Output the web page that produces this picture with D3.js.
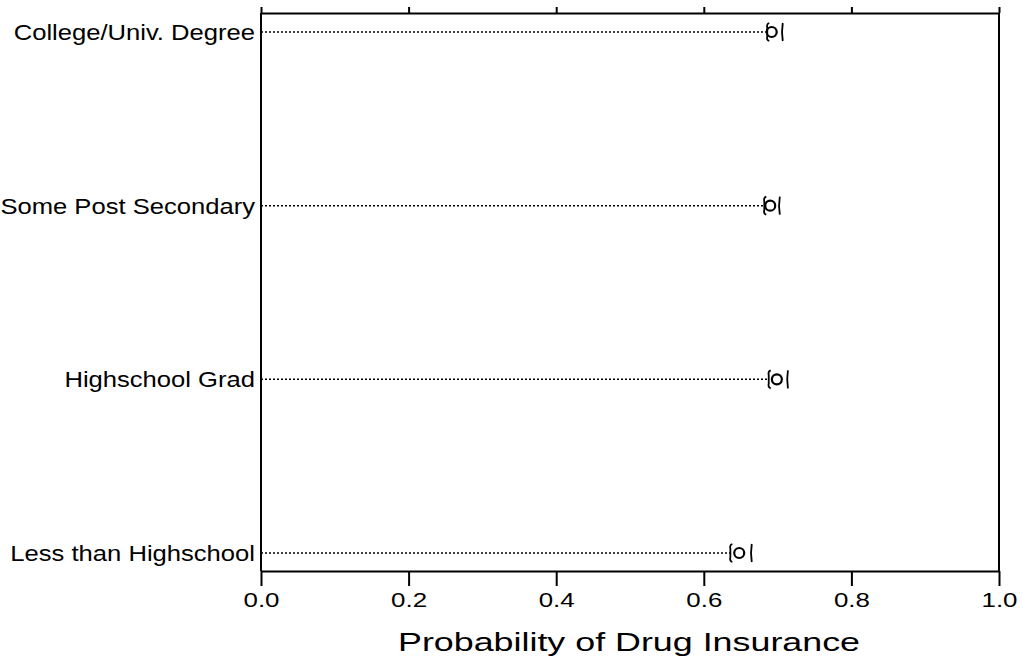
<!DOCTYPE html>
<html><head><meta charset="utf-8">
<script src="https://cdn.jsdelivr.net/npm/d3@7"></script>
<style>body{margin:0;background:#fff}svg{display:block}</style>
</head><body>
<script>
const categories = ["College/Univ. Degree","Some Post Secondary","Highschool Grad","Less than Highschool"];
const estimates = [0.692, 0.690, 0.699, 0.648];
const lowerCI = [0.686, 0.682, 0.688, 0.636];
const upperCI = [0.707, 0.703, 0.714, 0.665];
const xTicks = [0, 0.2, 0.4, 0.6, 0.8, 1.0];
const xTickLabels = ["0.0","0.2","0.4","0.6","0.8","1.0"];
const xTitle = "Probability of Drug Insurance";

const W = 1023, H = 659;
const svg = d3.select("body").append("svg").attr("width", W).attr("height", H);
const font = "'Liberation Sans', Arial, sans-serif";

const x = d3.scaleLinear().domain([0, 1]).range([261, 999]);
const y = d3.scalePoint().domain(categories).range([32, 553]);
const yTop = 13, yBottom = 571;

// frame
const g = svg.append("g").attr("stroke", "#000").attr("stroke-width", 2).attr("fill", "none");
g.append("line").attr("x1", x(0)).attr("x2", x(0)).attr("y1", yTop).attr("y2", yBottom);
g.append("line").attr("x1", x(1)).attr("x2", x(1)).attr("y1", yTop).attr("y2", yBottom);

// top axis
const topAxis = svg.append("g").attr("transform", `translate(0,${yTop})`)
  .call(d3.axisTop(x).tickValues(xTicks).tickSize(6).tickSizeOuter(0).tickFormat(""));
topAxis.selectAll("path,line").attr("stroke", "#000").attr("stroke-width", 2);

// bottom axis
const botAxis = svg.append("g").attr("transform", `translate(0,${yBottom})`)
  .call(d3.axisBottom(x).tickValues(xTicks).tickSize(15).tickSizeOuter(0)
    .tickFormat((d, i) => xTickLabels[i]));
botAxis.selectAll("path,line").attr("stroke", "#000").attr("stroke-width", 2);
botAxis.selectAll("text").attr("font-family", font).attr("font-size", 20).attr("fill", "#000")
  .attr("y", 0).attr("dy", 0).attr("transform", "translate(0,36)")
  .attr("textLength", 36).attr("lengthAdjust", "spacingAndGlyphs");

// labels (horizontally stretched like the reference)
const labels = svg.append("g").selectAll("text").data(categories).join("text")
  .attr("x", 255).attr("y", d => y(d) + 8).attr("text-anchor", "end")
  .attr("font-family", font).attr("font-size", 21.5).attr("fill", "#000")
  .text(d => d);
labels.each(function() {
  const len = this.getComputedTextLength();
  d3.select(this).attr("textLength", len * 1.19).attr("lengthAdjust", "spacingAndGlyphs");
});

// rows
const rows = svg.append("g").selectAll("g").data(categories).join("g");
rows.append("line")
  .attr("x1", x(0)).attr("x2", (d, i) => x(lowerCI[i]))
  .attr("y1", d => y(d)).attr("y2", d => y(d))
  .attr("stroke", "#000").attr("stroke-width", 1.5).attr("stroke-dasharray", "2,2");
rows.append("path")
  .attr("d", (d, i) => { const xx = x(lowerCI[i]), yy = y(d);
    return `M${xx + 2},${yy - 9} Q${xx - 1},${yy - 8} ${xx},${yy - 4} L${xx},${yy + 4} Q${xx - 1},${yy + 8} ${xx + 2},${yy + 9}`; })
  .attr("fill", "none").attr("stroke", "#000").attr("stroke-width", 1.8);
rows.append("path")
  .attr("d", (d, i) => { const xx = x(upperCI[i]), yy = y(d);
    return `M${xx},${yy - 9} Q${xx - 1.5},${yy} ${xx},${yy + 9}`; })
  .attr("fill", "none").attr("stroke", "#000").attr("stroke-width", 1.8);
rows.append("circle")
  .attr("cx", (d, i) => x(estimates[i])).attr("cy", d => y(d)).attr("r", 5)
  .attr("fill", "none").attr("stroke", "#000").attr("stroke-width", 2.2);

// title
svg.append("text").attr("x", 629).attr("y", 651).attr("text-anchor", "middle")
  .attr("font-family", font).attr("font-size", 25).attr("fill", "#000")
  .attr("textLength", 462).attr("lengthAdjust", "spacingAndGlyphs")
  .text(xTitle);
</script>
</body></html>
